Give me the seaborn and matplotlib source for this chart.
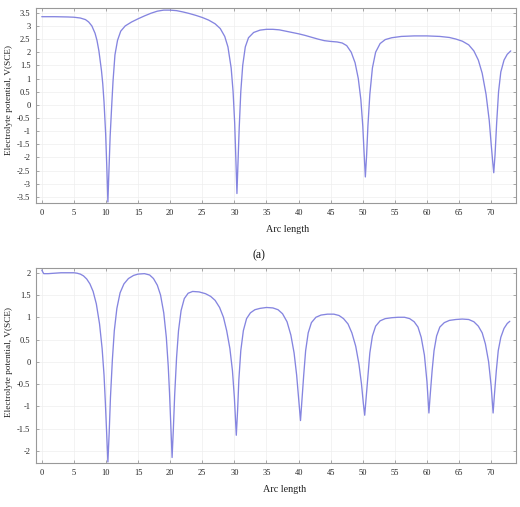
import pandas as pd
import seaborn as sns
import matplotlib.pyplot as plt

# (a) electrolyte potential along arc length
arc_a = [0, 2, 4, 5, 6, 6.8, 7.3, 7.8, 8.3, 8.6, 8.9, 9.3, 9.5, 9.7, 9.95, 10.15, 10.3, 10.45, 10.65,
         10.9, 11.1, 11.4, 11.8, 12.3, 13, 14, 15, 16, 17, 18, 19, 20, 21, 22, 23, 24, 25, 26, 27,
         27.8, 28.5, 29, 29.5, 29.8, 30.05, 30.25, 30.4, 30.55, 30.75, 31.0, 31.3, 31.7, 32.2, 33,
         34, 35, 36, 37, 38, 39, 40, 41, 42, 43, 44, 45, 46, 46.8, 47.5, 48.2, 48.8, 49.3, 49.7, 50.0,
         50.2, 50.4, 50.6, 50.8, 51.1, 51.5, 52, 52.7, 53.5, 54.5, 56, 58, 60, 62, 63.5, 64.5, 65.5,
         66.5, 67.3, 68, 68.6, 69.2, 69.7, 70.0, 70.25, 70.4, 70.6, 70.85, 71.15, 71.5, 72, 72.5,
         73.05]
pot_a = [3.35, 3.35, 3.34, 3.33, 3.3, 3.24, 3.15, 3.0, 2.72, 2.45, 2.05, 1.3, 0.8, 0.1, -1.1, -2.5,
         -3.69, -2.6, -1.2, 0.0, 0.9, 1.9, 2.45, 2.8, 3.0, 3.15, 3.27, 3.38, 3.48, 3.56, 3.6, 3.6,
         3.58, 3.53, 3.47, 3.4, 3.32, 3.22, 3.08, 2.9, 2.6, 2.2, 1.4, 0.5, -0.7, -2.2, -3.37, -2.3,
         -0.9, 0.5, 1.5, 2.2, 2.55, 2.75, 2.84, 2.87, 2.87, 2.85, 2.8, 2.75, 2.7, 2.64, 2.57, 2.5,
         2.44, 2.41, 2.39, 2.35, 2.25, 2.0, 1.6, 1.0, 0.2, -0.8, -1.8, -2.74, -1.9, -0.8, 0.4, 1.4,
         2.0, 2.33, 2.48, 2.55, 2.6, 2.62, 2.62, 2.6, 2.56, 2.5, 2.42, 2.28, 2.05, 1.7, 1.2, 0.4,
         -0.6, -1.5, -2.2, -2.58, -1.9, -0.7, 0.5, 1.25, 1.7, 1.92, 2.05]

# (b)
arc_b = [0, 0.3, 1, 2, 3, 4, 5, 5.5, 6, 6.5, 7, 7.5, 8, 8.5, 9, 9.4, 9.7, 9.9, 10.1, 10.3, 10.5,
         10.7, 11.0, 11.3, 11.7, 12.2, 12.8, 13.5, 14.3, 15, 16, 16.8, 17.4, 18, 18.5, 19, 19.4, 19.7,
         19.9, 20.1, 20.3, 20.5, 20.7, 21.0, 21.3, 21.7, 22.2, 22.8, 23.5, 24.5, 25.5, 26.3, 27, 27.7,
         28.3, 28.8, 29.3, 29.7, 30.0, 30.3, 30.5, 30.7, 31.0, 31.4, 31.9, 32.5, 33.2, 34, 35, 36,
         36.8, 37.5, 38.2, 38.8, 39.3, 39.7, 40.0, 40.3, 40.5, 40.8, 41.1, 41.5, 42, 42.7, 43.5, 44.5,
         45.5, 46.3, 47, 47.7, 48.3, 48.9, 49.4, 49.8, 50.1, 50.3, 50.5, 50.8, 51.1, 51.5, 52, 52.7,
         53.5, 54.5, 55.5, 56.5, 57.3, 58, 58.6, 59.1, 59.6, 60.0, 60.3, 60.5, 60.8, 61.1, 61.5, 62,
         62.7, 63.5, 64.5, 65.5, 66.5, 67.3, 68, 68.6, 69.1, 69.6, 70.0, 70.3, 70.5, 70.8, 71.1, 71.5,
         72, 72.5, 72.9]
pot_b = [2.06, 1.98, 1.98, 1.99, 2.0, 2.0, 2.0, 1.99, 1.97, 1.93, 1.86, 1.75, 1.58, 1.3, 0.85, 0.3,
         -0.3, -0.9, -1.6, -2.25, -1.6, -0.8, 0.05, 0.7, 1.2, 1.55, 1.75, 1.87, 1.94, 1.97, 1.98,
         1.95, 1.87, 1.72, 1.5, 1.1, 0.55, -0.1, -0.7, -1.4, -2.15, -1.5, -0.75, 0.1, 0.7, 1.15,
         1.42, 1.54, 1.58, 1.57, 1.53, 1.47, 1.38, 1.22, 1.0, 0.7, 0.3, -0.2, -0.8, -1.65, -1.1,
         -0.4, 0.25, 0.7, 0.97, 1.1, 1.17, 1.2, 1.22, 1.21, 1.17, 1.08, 0.9, 0.6, 0.2, -0.3, -0.8,
         -1.32, -0.9, -0.3, 0.25, 0.65, 0.88, 1.0, 1.05, 1.07, 1.07, 1.04, 0.97, 0.85, 0.65, 0.35,
         -0.05, -0.5, -0.95, -1.2, -0.85, -0.3, 0.2, 0.58, 0.8, 0.92, 0.97, 0.99, 1.0, 1.0, 0.97,
         0.9, 0.78, 0.55, 0.15, -0.45, -1.15, -0.75, -0.2, 0.25, 0.58, 0.78, 0.88, 0.93, 0.95, 0.96,
         0.95, 0.9, 0.8, 0.65, 0.4, 0.0, -0.55, -1.15, -0.75, -0.2, 0.25, 0.55, 0.75, 0.86, 0.91]

xticks = list(range(0, 75, 5))
yticks_a = [-3.5, -3, -2.5, -2, -1.5, -1, -0.5, 0, 0.5, 1, 1.5, 2, 2.5, 3, 3.5]
yticks_b = [-2, -1.5, -1, -0.5, 0, 0.5, 1, 1.5, 2]

sns.set_theme(style="whitegrid")
plt.rcParams['font.family'] = ['Liberation Serif', 'DejaVu Serif']

df_a = pd.DataFrame({'arc': arc_a, 'pot': pot_a})
df_b = pd.DataFrame({'arc': arc_b, 'pot': pot_b})

fig = plt.figure(figsize=(5.2, 5.07), dpi=100)
ax1 = fig.add_axes([0.0692, 0.5996, 0.9223, 0.3846])
ax2 = fig.add_axes([0.0692, 0.0862, 0.9223, 0.3846])

line_col = '#8585e0'
sns.lineplot(data=df_a, x='arc', y='pot', ax=ax1, color=line_col, linewidth=0.95)
sns.lineplot(data=df_b, x='arc', y='pot', ax=ax2, color=line_col, linewidth=0.95)

def style(ax, yticks, ylim):
    ax.set_xlim(-0.9, 73.8)
    ax.set_ylim(*ylim)
    ax.set_xticks(xticks)
    ax.set_yticks(yticks)
    ax.set_yticklabels([('%g' % v) for v in yticks])
    ax.set_xlabel('')
    ax.set_ylabel('')
    ax.grid(True, color='#eeeeee', linewidth=0.5)
    for s in ax.spines.values():
        s.set_color('#999999')
        s.set_linewidth(0.8)
    ax.tick_params(axis='both', which='both', direction='in', length=2.5, width=0.6,
                   color='#999999', labelsize=6, labelcolor='#222222', pad=4,
                   top=True, right=True, bottom=True, left=True)

style(ax1, yticks_a, (-3.73, 3.68))
style(ax2, yticks_b, (-2.28, 2.1))

fig.text(0.553, 1 - 230 / 507, 'Arc length', ha='center', va='center', fontsize=7.3, color='#222222')
fig.text(0.548, 1 - 490 / 507, 'Arc length', ha='center', va='center', fontsize=7.3, color='#222222')
fig.text(0.497, 1 - 255 / 507, '(a)', ha='center', va='center', fontsize=8.5, color='#111111')
fig.text(0.017, 1 - 100 / 507, 'Electrolyte potential, V(SCE)', rotation=90,
         ha='center', va='center', fontsize=6.7, color='#222222')
fig.text(0.017, 1 - 362 / 507, 'Electrolyte potential, V(SCE)', rotation=90,
         ha='center', va='center', fontsize=6.7, color='#222222')

fig.savefig('out.png', dpi=100)
